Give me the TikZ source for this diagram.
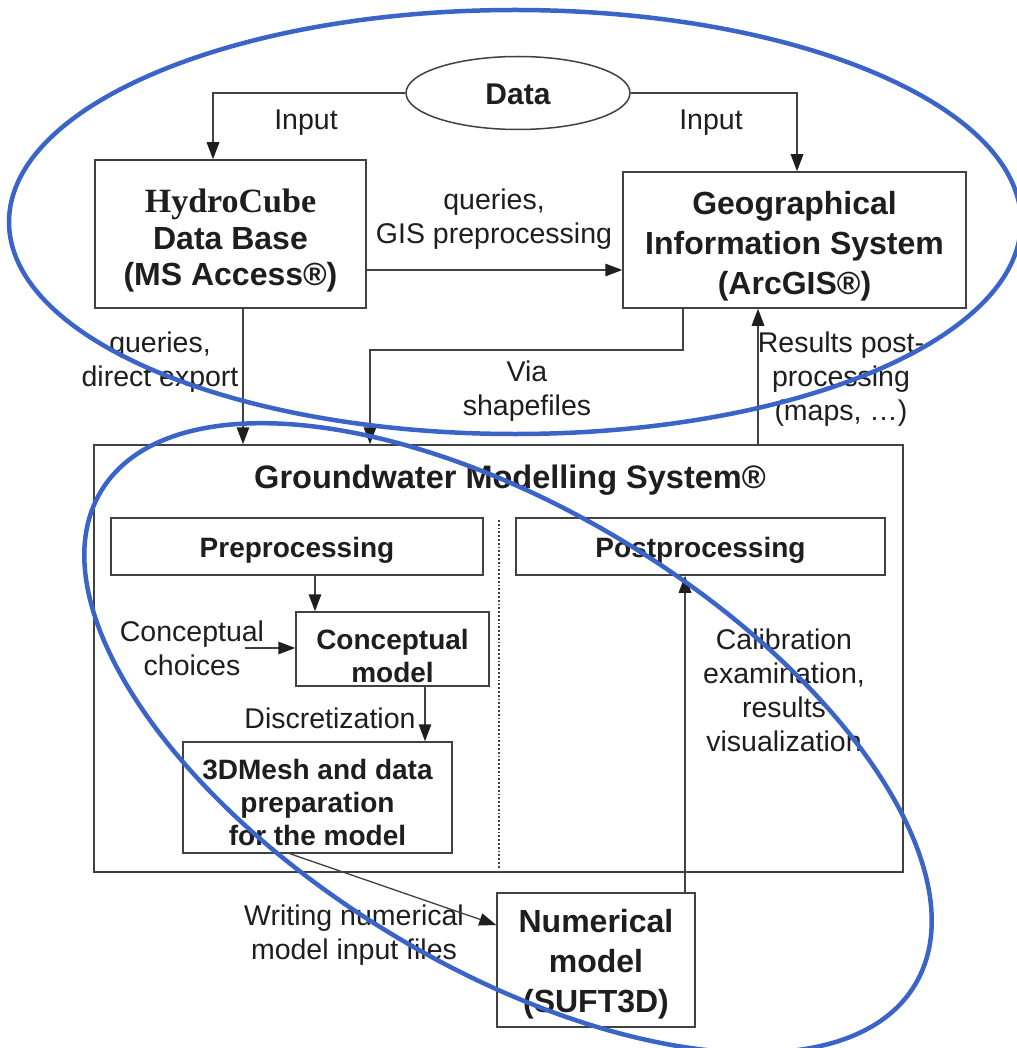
\documentclass[tikz,border=0pt]{standalone}
\usepackage{fontspec}
\setmainfont{Liberation Sans}
\newfontfamily\timesfont{Liberation Serif}
\usetikzlibrary{arrows.meta,shapes.geometric}
\definecolor{ink}{RGB}{30,30,30}
\definecolor{lineg}{RGB}{65,65,65}
\definecolor{hblue}{RGB}{58,100,200}
\begin{document}
\begin{tikzpicture}[x=1pt,y=-1pt,
  box/.style={draw=lineg,line width=1.5pt,rectangle,inner sep=0pt},
  btext/.style={align=center,text=ink,inner sep=0pt,font=\fontsize{32}{40}\selectfont\bfseries},
  stext/.style={btext,font=\fontsize{28}{33}\selectfont\bfseries},
  lbl/.style={align=center,text=ink,inner sep=0pt,font=\fontsize{28.5}{34}\selectfont},
  conn/.style={draw=lineg,line width=1.5pt,-{Triangle[length=17pt,width=12.5pt,color=ink]}},
  hring/.style={draw=hblue,line width=4.5pt}]
\useasboundingbox (0,0) rectangle (1016,1048);
\fill[white] (0,0) rectangle (1016,1048);
% boxes
\node[ellipse,draw=lineg,line width=1.5pt,minimum width=224pt,minimum height=73pt,inner sep=0pt] (data) at (518,93) {};
\node[box,minimum width=271pt,minimum height=148pt] (hydro) at (230.5,234) {};
\node[box,minimum width=343pt,minimum height=136pt] (gis) at (794.5,240) {};
\node[box,minimum width=809pt,minimum height=427pt] (gms) at (498.5,658.5) {};
\node[box,minimum width=372pt,minimum height=57pt] (pre) at (297,546.5) {};
\node[box,minimum width=369pt,minimum height=57pt] (post) at (700.5,546.5) {};
\node[box,minimum width=193pt,minimum height=74pt] (concm) at (392.5,649) {};
\node[box,minimum width=269pt,minimum height=111pt] (mesh) at (317.5,797.5) {};
\node[box,minimum width=198pt,minimum height=134pt] (num) at (596,960) {};
% box texts
\node[btext,font=\fontsize{30}{36}\selectfont\bfseries] (datat) at ([yshift=-1pt]data.center) {Data};
\node[btext,font=\fontsize{32}{36.5}\selectfont\bfseries] (hydrot) at ([yshift=-7pt]hydro.center)
  {{\timesfont\fontsize{34}{36.5}\selectfont\bfseries HydroCube}\\Data Base\\(MS Access®)};
\node[btext] (gist) at ([yshift=-6pt]gis.center) {Geographical\\Information System\\(ArcGIS®)};
\node[btext,font=\fontsize{32.5}{36}\selectfont\bfseries] (gmstitle) at (510,480) {Groundwater Modelling System®};
\node[stext] (pret) at ([yshift=-4pt]pre.center) {Preprocessing};
\node[stext] (postt) at ([yshift=-4pt]post.center) {Postprocessing};
\node[stext] (concmt) at ([yshift=-7pt]concm.center) {Conceptual\\model};
\node[stext] (mesht) at ([yshift=-5pt]mesh.center) {3DMesh and data\\preparation\\for the model};
\node[btext] (numt) at ([yshift=-4pt]num.center) {Numerical\\model\\(SUFT3D)};
% labels
\node[lbl] (in1) at (306,123) {Input};
\node[lbl] (in2) at (711,123) {Input};
\node[lbl] (qgis) at (494,219) {queries,\\GIS preprocessing};
\node[lbl] (qdir) at (160,362) {queries,\\direct export};
\node[lbl] (via) at (527,391) {Via\\shapefiles};
\node[lbl] (res) at (841,379) {Results post-\\processing\\(maps, …)};
\node[lbl] (cch) at (192,648) {Conceptual\\choices};
\node[lbl] (disc) at (330,718) {Discretization};
\node[lbl] (wri) at (354,935) {Writing numerical\\model input files};
\node[lbl] (cal) at (784,690) {Calibration\\examination,\\results\\visualization};
% connectors
\coordinate (vsbend) at (370,350);
\coordinate (ccstart) at (245,648);
\coordinate (dtop) at (499,520);
\coordinate (dbot) at (499,868);
\draw[conn] (data.west) -| ([xshift=-17.5pt]hydro.north);
\draw[conn] (data.east) -| ([xshift=2.5pt]gis.north);
\draw[conn] ([yshift=-36pt]hydro.east) -- ([yshift=-36pt]hydro.east -| gis.west);
\draw[conn] ([xshift=12.5pt]hydro.south) -- ([xshift=12.5pt]hydro.south |- gms.north);
\draw[conn] ([xshift=-111.5pt]gis.south) |- (vsbend) -- (vsbend |- gms.north);
\draw[conn] ([xshift=259.5pt]gms.north) -- ([xshift=259.5pt]gms.north |- gis.south);
\draw[conn] ([xshift=18pt]pre.south) -- ([xshift=18pt]pre.south |- concm.north);
\draw[conn] (ccstart) -- (ccstart -| concm.west);
\draw[conn] ([xshift=32.5pt]concm.south) -- ([xshift=32.5pt]concm.south |- mesh.north);
\draw[conn,line width=1.3pt] ([xshift=-27.5pt]mesh.south) -- ([yshift=35pt]num.west);
\draw[conn] ([xshift=89pt]num.north) -- ([xshift=89pt]num.north |- post.south);
\draw[draw=lineg,line width=1.8pt,dotted] (dtop) -- (dbot);
% blue ellipses
\draw[hring] (515,222) ellipse [x radius=506,y radius=212];
\draw[hring,rotate around={-31.3:(508,738)}] (508,738) ellipse [x radius=476,y radius=228];
\end{tikzpicture}
\end{document}
